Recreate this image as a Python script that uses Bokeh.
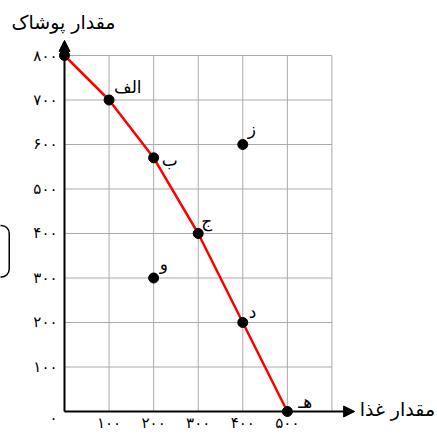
from bokeh.plotting import figure
from bokeh.models import Arrow, NormalHead, Range1d, ColumnDataSource, BoxAnnotation
from bokeh.core.properties import value
from bokeh.embed import file_html
from bokeh.resources import INLINE

# ---- data ----
x_tick_values = [100, 200, 300, 400, 500]
x_tick_labels = ["۱۰۰", "۲۰۰", "۳۰۰", "۴۰۰", "۵۰۰"]
y_tick_values = [100, 200, 300, 400, 500, 600, 700, 800]
y_tick_labels = ["۱۰۰", "۲۰۰", "۳۰۰", "۴۰۰", "۵۰۰", "۶۰۰", "۷۰۰", "۸۰۰"]
origin_label = "۰"
grid_x = [100, 200, 300, 400, 500, 600]
grid_y = [100, 200, 300, 400, 500, 600, 700, 800]

ppf_names = ["", "الف", "ب", "ج", "د", "هـ"]
ppf_food = [0, 100, 200, 300, 400, 500]
ppf_clothing = [800, 700, 570, 400, 200, 0]

other_names = ["و", "ز"]
other_food = [200, 400]
other_clothing = [300, 600]

x_title = "مقدار غذا"
y_title = "مقدار پوشاک"

# ---- label offsets (style, px) ----
ppf_dx = [0, 5, 8, 3, 6, 11]
ppf_dy = [0, -13, 2, -12, -10, -9]
other_dx = [6, 5]
other_dy = [-14, -15]

FONT = "DejaVu Sans"

p = figure(width=437, height=434, output_backend="svg", toolbar_location=None,
           x_range=Range1d(-143.6, 836.9), y_range=Range1d(-51.7, 923.6),
           min_border=0, outline_line_color=None)
p.axis.visible = False
p.grid.visible = False

# decorative frame fragment at the left edge
p.add_layout(BoxAnnotation(left=-200, right=-124, top=418, bottom=302,
                           fill_alpha=0, line_color="black", line_alpha=1.0,
                           line_width=1.5, border_radius=8))

# grid
gx_top = grid_y[-1]
gy_right = grid_x[-1]
p.segment(x0=grid_x, y0=[0] * len(grid_x), x1=grid_x, y1=[gx_top] * len(grid_x),
          line_color="#aaaaaa", line_width=1)
p.segment(x0=[0] * len(grid_y), y0=grid_y, x1=[gy_right] * len(grid_y), y1=grid_y,
          line_color="#aaaaaa", line_width=1)

# axes with arrows
p.add_layout(Arrow(end=NormalHead(size=11, fill_color="black", line_color="black"),
                   x_start=0, y_start=0, x_end=0, y_end=834,
                   line_color="black", line_width=2))
p.add_layout(Arrow(end=NormalHead(size=11, fill_color="black", line_color="black"),
                   x_start=0, y_start=0, x_end=651, y_end=0,
                   line_color="black", line_width=2))

# tick labels
p.text(x=x_tick_values, y=[0] * len(x_tick_values), text=x_tick_labels,
       text_font=value(FONT), text_font_size="15px", text_align="center",
       text_baseline="middle", y_offset=12, text_color="black")
p.text(x=[0] * len(y_tick_values), y=y_tick_values, text=y_tick_labels,
       text_font=value(FONT), text_font_size="15px", text_align="right",
       text_baseline="middle", x_offset=-7, text_color="black")
p.text(x=[0], y=[0], text=[origin_label], text_font=value(FONT),
       text_font_size="15px", text_align="center", text_baseline="middle",
       x_offset=-11, y_offset=7, text_color="black")

# titles
p.text(x=[0], y=[gx_top], text=[y_title], text_font=value(FONT),
       text_font_size="19px", text_align="center", text_baseline="middle",
       x_offset=-1, y_offset=-34, text_color="black")
p.text(x=[651], y=[0], text=[x_title], text_font=value(FONT),
       text_font_size="19px", text_align="left", text_baseline="middle",
       x_offset=5, y_offset=-2, text_color="black")

# PPF curve
ppf = ColumnDataSource(dict(x=ppf_food, y=ppf_clothing, name=ppf_names,
                            dx=ppf_dx, dy=ppf_dy))
p.line("x", "y", source=ppf, line_color="red", line_width=2.5)
p.scatter("x", "y", source=ppf, size=10, fill_color="black", line_color="black")
p.text("x", "y", text="name", source=ppf, x_offset="dx", y_offset="dy",
       text_font=value(FONT), text_font_size="17px", text_align="left",
       text_baseline="middle", text_color="black")

oth = ColumnDataSource(dict(x=other_food, y=other_clothing, name=other_names,
                            dx=other_dx, dy=other_dy))
p.scatter("x", "y", source=oth, size=10, fill_color="black", line_color="black")
p.text("x", "y", text="name", source=oth, x_offset="dx", y_offset="dy",
       text_font=value(FONT), text_font_size="17px", text_align="left",
       text_baseline="middle", text_color="black")

open("out.html", "w").write(file_html(p, INLINE))
